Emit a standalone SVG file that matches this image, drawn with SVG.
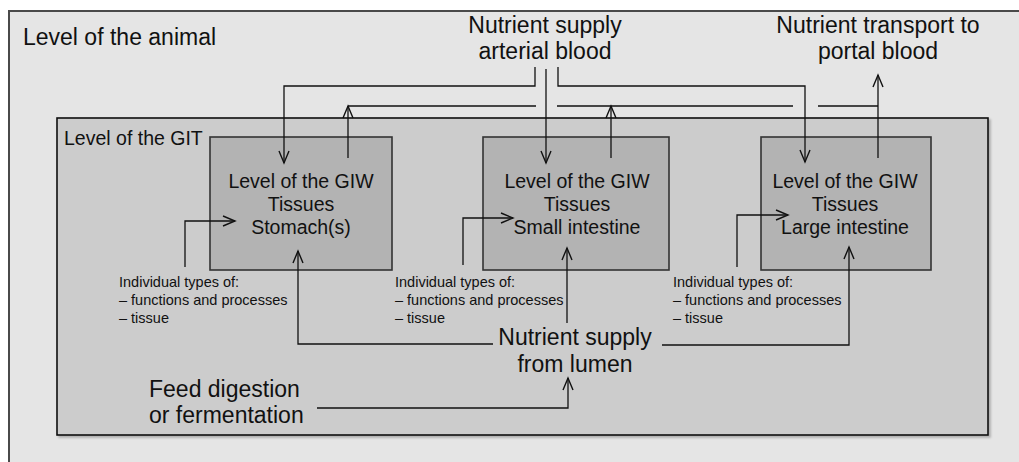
<svg xmlns="http://www.w3.org/2000/svg" width="1019" height="462" viewBox="0 0 1019 462">
<defs>
<marker id="ah" markerUnits="userSpaceOnUse" markerWidth="14" markerHeight="12" refX="12" refY="5" orient="auto" overflow="visible">
<path d="M0,0 L12,5 L0,10" fill="none" stroke="#111" stroke-width="1.4"/>
</marker>
<filter id="sh" x="-5%" y="-5%" width="110%" height="110%"><feDropShadow dx="2" dy="2" stdDeviation="0.8" flood-color="#000" flood-opacity="0.25"/></filter>
</defs>
<style>
.t{font-family:"Liberation Sans",Arial,sans-serif;fill:#111}
.big{font-size:23px}
.mid{font-size:19.5px}
.sm{font-size:14.5px}
.box{fill:#b3b3b3;stroke:#333;stroke-width:1.6}
.c{fill:none;stroke:#111;stroke-width:1.3}
</style>
<rect x="0" y="0" width="1019" height="462" fill="#fff"/>
<g id="animal">
<rect x="9" y="11" width="1100" height="500" fill="#e5e5e5" stroke="#4a4a4a" stroke-width="2"/>
<text class="t big" x="23" y="45">Level of the animal</text>
</g>
<g id="git">
<rect x="57" y="118" width="931" height="317" fill="#cccccc" stroke="#111" stroke-width="1.6" filter="url(#sh)"/>
<text class="t mid" x="64" y="145">Level of the GIT</text>
</g>
<g id="stomach">
<rect class="box" x="210" y="137" width="182" height="133"/>
<text class="t mid" text-anchor="middle" x="301" y="188">Level of the GIW</text>
<text class="t mid" text-anchor="middle" x="301" y="211">Tissues</text>
<text class="t mid" text-anchor="middle" x="301" y="234">Stomach(s)</text>
</g>
<g id="small">
<rect class="box" x="483" y="137" width="186" height="133"/>
<text class="t mid" text-anchor="middle" x="577" y="188">Level of the GIW</text>
<text class="t mid" text-anchor="middle" x="577" y="211">Tissues</text>
<text class="t mid" text-anchor="middle" x="577" y="234">Small intestine</text>
</g>
<g id="large">
<rect class="box" x="761" y="137" width="170" height="133"/>
<text class="t mid" text-anchor="middle" x="845" y="188">Level of the GIW</text>
<text class="t mid" text-anchor="middle" x="845" y="211">Tissues</text>
<text class="t mid" text-anchor="middle" x="845" y="234">Large intestine</text>
</g>
<g id="types-stomach">
<text class="t sm" x="119" y="287">Individual types of:</text>
<text class="t sm" x="119" y="305">– functions and processes</text>
<text class="t sm" x="119" y="323">– tissue</text>
</g>
<g id="types-small">
<text class="t sm" x="395" y="287">Individual types of:</text>
<text class="t sm" x="395" y="305">– functions and processes</text>
<text class="t sm" x="395" y="323">– tissue</text>
</g>
<g id="types-large">
<text class="t sm" x="673" y="287">Individual types of:</text>
<text class="t sm" x="673" y="305">– functions and processes</text>
<text class="t sm" x="673" y="323">– tissue</text>
</g>
<g id="arterial">
<text class="t big" text-anchor="middle" x="545" y="33">Nutrient supply</text>
<text class="t big" text-anchor="middle" x="545" y="59">arterial blood</text>
</g>
<g id="portal">
<text class="t big" text-anchor="middle" x="878" y="33">Nutrient transport to</text>
<text class="t big" text-anchor="middle" x="878" y="59">portal blood</text>
</g>
<g id="lumen">
<text class="t big" text-anchor="middle" x="575" y="345">Nutrient supply</text>
<text class="t big" text-anchor="middle" x="575" y="372">from lumen</text>
</g>
<g id="feed">
<text class="t big" x="149" y="397">Feed digestion</text>
<text class="t big" x="149" y="423">or fermentation</text>
</g>
<g id="connectors">
<path class="c" d="M535,67 V86 H284 V163" marker-end="url(#ah)"/>
<path class="c" d="M546,69 V163" marker-end="url(#ah)"/>
<path class="c" d="M558,67 V86 H805 V162" marker-end="url(#ah)"/>
<path class="c" d="M348,158 V106" marker-end="url(#ah)"/>
<path class="c" d="M611,158 V106" marker-end="url(#ah)"/>
<path class="c" d="M878,158 V75" marker-end="url(#ah)"/>
<path class="c" d="M348,106 H536 M557,106 H793 M818,106 H878"/>
<path class="c" d="M185,267 V221 H235" marker-end="url(#ah)"/>
<path class="c" d="M463,265 V218 H513" marker-end="url(#ah)"/>
<path class="c" d="M737,267 V215 H788" marker-end="url(#ah)"/>
<path class="c" d="M493,344 H298 V251" marker-end="url(#ah)"/>
<path class="c" d="M567,323 V248" marker-end="url(#ah)"/>
<path class="c" d="M662,345 H849 V247" marker-end="url(#ah)"/>
<path class="c" d="M317,408 H568 V378" marker-end="url(#ah)"/>
</g>
</svg>
